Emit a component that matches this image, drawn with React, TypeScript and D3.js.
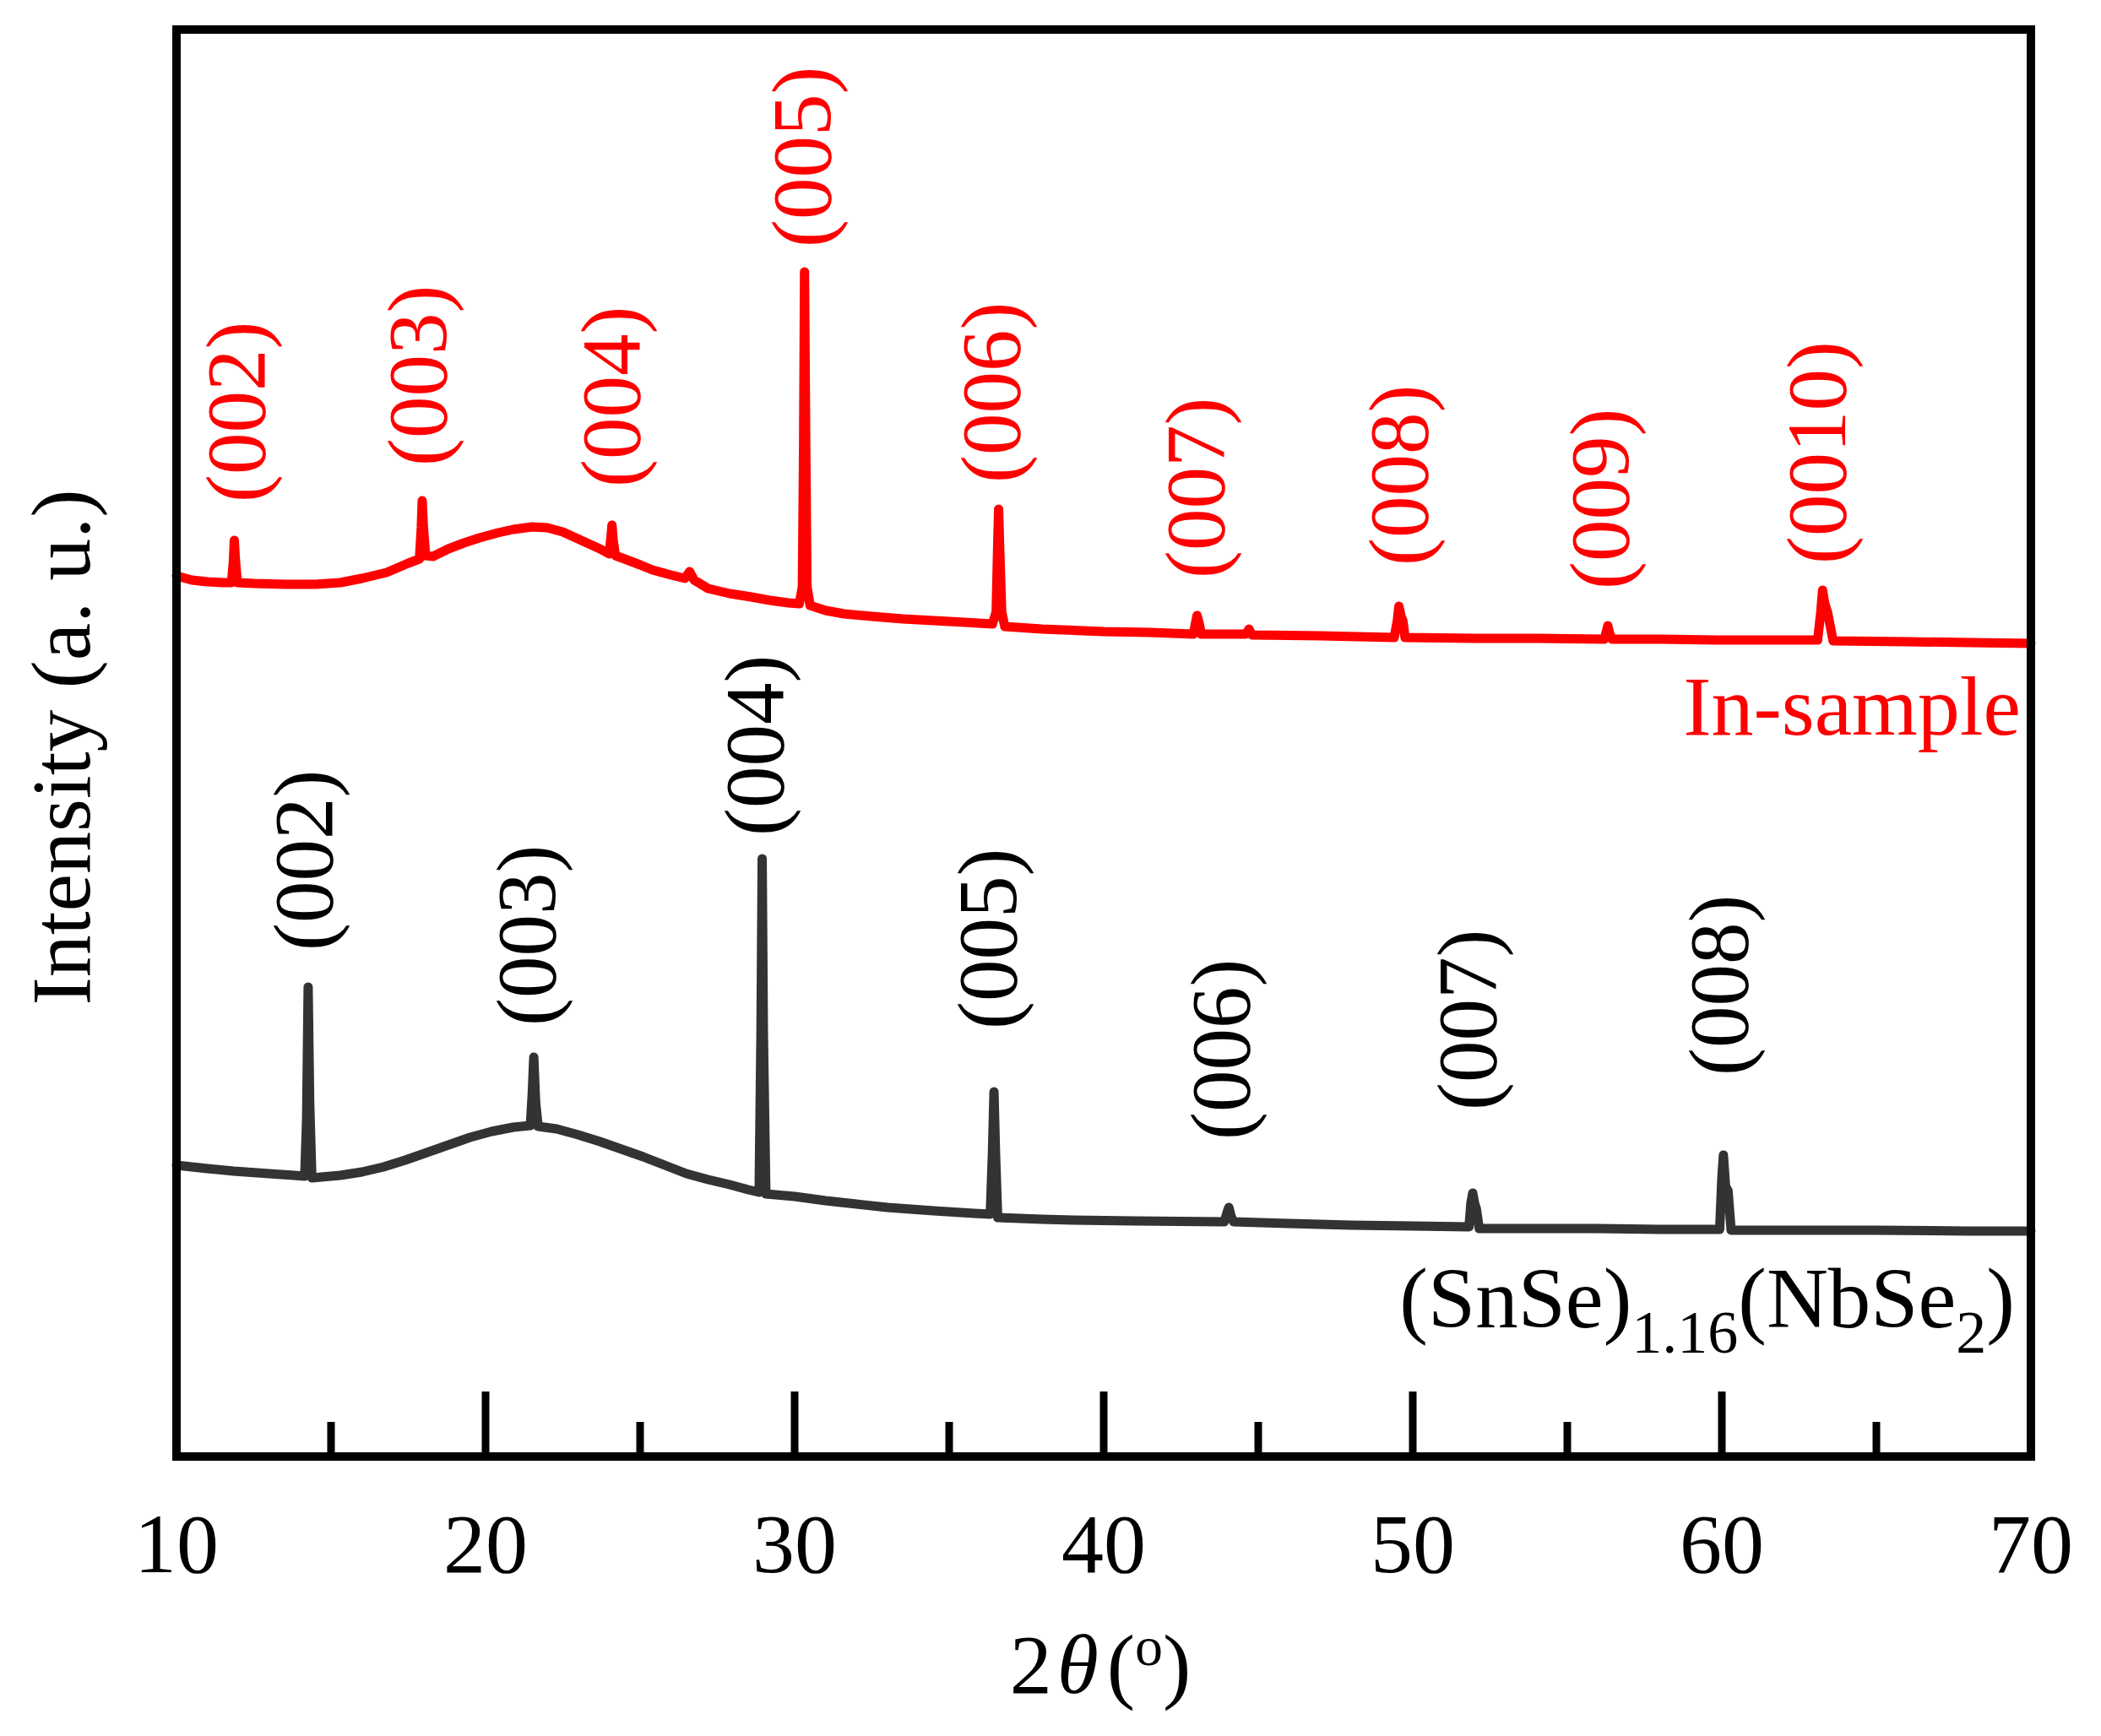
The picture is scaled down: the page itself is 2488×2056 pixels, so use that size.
import React from "react";
import * as d3 from "d3";

// ---- data (2θ in degrees, intensity in a.u.) ----
const inSampleTheta = [10.0,10.5,11.0,11.5,11.78,11.84,11.87,11.91,11.97,12.5,13.5,14.5,15.3,16.0,16.8,17.5,17.86,17.92,17.95,17.99,18.06,18.3,18.8,19.3,19.8,20.4,20.9,21.5,22.0,22.5,23.1,23.7,24.0,24.06,24.09,24.13,24.2,24.5,25.0,25.4,26.0,26.45,26.6,26.75,27.2,27.9,28.6,29.2,29.8,30.15,30.25,30.29,30.32,30.36,30.4,30.5,31.0,31.6,32.5,33.5,34.5,35.5,36.4,36.52,36.57,36.6,36.64,36.7,36.8,38.0,40.0,41.5,42.9,42.96,43.02,43.08,43.16,44.6,44.7,44.8,47.0,49.4,49.5,49.55,49.62,49.68,49.75,52,54,56.2,56.27,56.31,56.36,56.45,58,60,63.1,63.2,63.26,63.33,63.42,63.5,63.6,66,68,70];
const inSampleIntensity = [1043,1038,1036,1035,1035,1060,1085,1060,1035,1034,1033,1033,1035,1040,1047,1058,1063,1100,1132,1100,1067,1066,1075,1082,1088,1094,1098,1101,1100,1095,1085,1075,1069,1090,1103,1085,1067,1063,1056,1050,1044,1040,1048,1038,1028,1022,1018,1014,1011,1010,1030,1200,1403,1200,1030,1008,1002,998,995,992,990,988,986,1000,1080,1122,1070,1000,983,980,977,976,974,985,996,988,974,974,980,973,972,970,990,1007,995,990,970,969,969,968,978,984,976,968,968,967,967,1000,1026,1010,1000,985,966,965,964,963];

const snseTheta = [10.0,11.0,11.85,13.0,13.8,14.15,14.21,14.26,14.31,14.38,15.3,16.0,16.7,17.4,18.1,18.8,19.5,20.2,20.9,21.45,21.51,21.56,21.62,21.7,22.3,23.0,23.7,24.4,25.1,25.8,26.5,27.2,27.9,28.5,28.85,28.91,28.95,28.99,29.07,30.0,31.0,32.0,33.0,34.5,35.8,36.33,36.4,36.45,36.5,36.57,38.0,39.0,41.0,43.9,44.0,44.05,44.12,44.2,46,48,50,51.82,51.88,51.94,52.0,52.06,52.15,54,56,58,59.93,60.0,60.05,60.12,60.2,60.3,62,65,68,70];
const snseIntensity = [345,341,338,335,333,332,400,556,420,330,333,337,343,351,360,369,378,385,390,392,430,473,420,391,388,381,373,364,355,345,335,328,322,316,313,500,708,500,311,308,303,299,295,291,288,287,360,432,360,283,281,280,279,278,290,295,285,278,276,274,273,272,300,312,300,293,270,270,270,269,269,330,357,320,315,268,268,268,267,267];

const inSampleLabels = ["(002)","(003)","(004)","(005)","(006)","(007)","(008)","(009)","(0010)"];
const inSampleLabelTheta = [12.1,17.98,24.23,30.41,36.53,43.14,49.73,56.23,63.25];
const inSampleLabelIntensity = [1130,1173,1148,1432,1153,1040,1055,1027,1057];

const snseLabels = ["(002)","(003)","(004)","(005)","(006)","(007)","(008)"];
const snseLabelTheta = [14.29,21.5,28.88,36.42,43.96,51.94,60.08];
const snseLabelIntensity = [599,510,735,506,375,410,451];

const majorTicks = [10,20,30,40,50,60,70];
const minorTicks = [15,25,35,45,55,65];

const FONT = "'Liberation Serif', 'Times New Roman', serif";

export default function App() {
  const W = 2488, H = 2056;
  const left = 209, right = 2405, top = 35, bottom = 1725;
  const x = d3.scaleLinear().domain([10, 70]).range([left, right]);
  const y = d3.scaleLinear().domain([0, 1690]).range([bottom, top]);
  const line = d3.line<[number, number]>().x(d => x(d[0])).y(d => y(d[1]));
  const redPts = inSampleTheta.map((t, i) => [t, inSampleIntensity[i]] as [number, number]);
  const blkPts = snseTheta.map((t, i) => [t, snseIntensity[i]] as [number, number]);
  const fs = 99;
  const off = 0.27 * fs;

  return (
    <svg width={W} height={H} style={{ position: "absolute", left: 0, top: 0, background: "#fff" }} fontFamily={FONT}>
      <rect x={0} y={0} width={W} height={H} fill="#fff" />
      <path d={line(redPts) || ""} fill="none" stroke="#ff0000" strokeWidth={11} strokeLinejoin="round" strokeLinecap="round" />
      <path d={line(blkPts) || ""} fill="none" stroke="#333333" strokeWidth={11} strokeLinejoin="round" strokeLinecap="round" />

      {inSampleLabels.map((s, i) => (
        <text key={"r" + i} fill="#ff0000" fontSize={fs} textAnchor="start"
          transform={`translate(${x(inSampleLabelTheta[i]) + off},${y(inSampleLabelIntensity[i])}) rotate(-90)`}>{s}</text>
      ))}
      {snseLabels.map((s, i) => (
        <text key={"b" + i} fill="#000" fontSize={fs} textAnchor="start"
          transform={`translate(${x(snseLabelTheta[i]) + off},${y(snseLabelIntensity[i])}) rotate(-90)`}>{s}</text>
      ))}

      {/* ticks */}
      {majorTicks.filter(t => t > 10 && t < 70).map(t => (
        <line key={"M" + t} x1={x(t)} x2={x(t)} y1={bottom} y2={bottom - 77} stroke="#000" strokeWidth={9} />
      ))}
      {minorTicks.map(t => (
        <line key={"m" + t} x1={x(t)} x2={x(t)} y1={bottom} y2={bottom - 41} stroke="#000" strokeWidth={9} />
      ))}
      <rect x={left} y={top} width={right - left} height={bottom - top} fill="none" stroke="#000" strokeWidth={10} />

      {majorTicks.map(t => (
        <text key={"l" + t} x={x(t)} y={1862} fontSize={100} textAnchor="middle" fill="#000">{t}</text>
      ))}

      <text x={1303} y={2005} fontSize={100} textAnchor="middle" fill="#000">
        <tspan>2</tspan><tspan dx={6} fontStyle="italic">θ</tspan><tspan dx={10}>(</tspan><tspan fontSize={66} dy={-33}>o</tspan><tspan dy={33}>)</tspan>
      </text>

      <text transform="translate(106,885) rotate(-90)" fontSize={100} textAnchor="middle" fill="#000">Intensity (a. u.)</text>

      <text x={2393} y={870} fontSize={100} textAnchor="end" fill="#ff0000">In-sample</text>
      <text x={2386} y={1572} fontSize={101} textAnchor="end" fill="#000">
        <tspan>(SnSe)</tspan><tspan fontSize={72} dy={30}>1.16</tspan><tspan dy={-30}>(NbSe</tspan><tspan fontSize={72} dy={30}>2</tspan><tspan dy={-30}>)</tspan>
      </text>
    </svg>
  );
}
